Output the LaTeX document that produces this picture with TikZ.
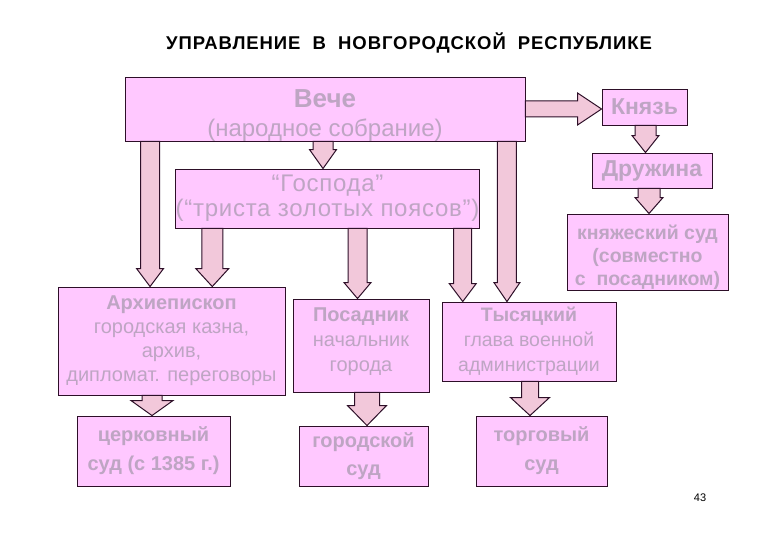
\documentclass[tikz,border=0pt]{standalone}
\usepackage{fontspec}
\setmainfont{Liberation Sans}
\usetikzlibrary{calc}
\definecolor{boxpink}{RGB}{255,200,255}
\definecolor{arrowpink}{RGB}{242,200,218}
\definecolor{edgedark}{RGB}{45,15,40}
\definecolor{textgrey}{RGB}{190,165,195}
\tikzset{
 ashaft/.store in=\ashaft, ahead/.store in=\ahead, alen/.store in=\alen,
 ashaft=10pt, ahead=14pt, alen=18pt}

\begin{document}
\begin{tikzpicture}[x=1pt,y=-1pt,
 box/.style={draw=edgedark,line width=0.9pt,fill=boxpink,text=textgrey,align=center,inner sep=0pt},
 big/.style={font=\fontsize{24}{29}\selectfont},
 small/.style={font=\fontsize{20}{24}\selectfont},
 downarr/.style={draw=edgedark,fill=arrowpink,line width=1pt,line join=miter,
  to path={let \p1=(\tikztostart),\p2=(\tikztotarget) in
   (\x1-\ashaft,\y1) -- (\x1-\ashaft,\y2+\alen) -- (\x1-\ahead,\y2+\alen) -- (\x1,\y2)
   -- (\x1+\ahead,\y2+\alen) -- (\x1+\ashaft,\y2+\alen) -- (\x1+\ashaft,\y1) -- cycle}},
 rightarr/.style={draw=edgedark,fill=arrowpink,line width=1pt,line join=miter,
  to path={let \p1=(\tikztostart),\p2=(\tikztotarget) in
   (\x1,\y1-\ashaft) -- (\x2-\alen,\y1-\ashaft) -- (\x2-\alen,\y1-\ahead) -- (\x2,\y1)
   -- (\x2-\alen,\y1+\ahead) -- (\x2-\alen,\y1+\ashaft) -- (\x1,\y1+\ashaft) -- cycle}}]
\useasboundingbox[fill=white] (0,0) rectangle (780,540);
\node[font=\fontsize{18.5}{22}\selectfont\bfseries\addfontfeature{LetterSpace=5}] (title) at (409,43) {УПРАВЛЕНИЕ\ \ В\ \ НОВГОРОДСКОЙ\ \ РЕСПУБЛИКЕ};
% upper part
\node[box,big,minimum width=400pt,minimum height=63pt] (veche) at (325,109) {\rule{0pt}{30pt}{\fontsize{26}{29}\selectfont\bfseries Вече}\\(народное собрание)};
\node[box,big,font=\fontsize{23}{26}\selectfont\bfseries,minimum width=85pt,minimum height=36pt] (knyaz) at (644.5,107) {Князь};
\node[box,big,font=\fontsize{23}{26}\selectfont\bfseries,minimum width=120pt,minimum height=35pt] (druzhina) at (652,170.5) {Дружина};
\node[box,font=\fontsize{19.5}{23}\selectfont\bfseries,minimum width=161pt,minimum height=76pt] (ksud) at (647.5,252) {\rule{0pt}{26pt}княжеский суд\\(совместно\\с\ \ посадником)};
\node[box,font=\fontsize{24}{25}\selectfont\addfontfeature{LetterSpace=3},minimum width=303pt,minimum height=59pt] (gospoda) at (327.5,198.5) {“Господа”\\(“триста золотых поясов”)};
% officials
\node[box,small,minimum width=227pt,minimum height=108pt] (arch) at (171.5,341) {\textbf{Архиепископ}\\городская казна,\\архив,\\дипломат. переговоры};
\node[box,small,font=\fontsize{20}{25}\selectfont,minimum width=136pt,minimum height=93pt] (posad) at (361,345.5) {\textbf{Посадник}\\начальник\\города\rule[-12pt]{0pt}{0pt}};
\node[box,small,font=\fontsize{19.5}{25}\selectfont,minimum width=174pt,minimum height=79pt] (tys) at (529,341.5) {\textbf{Тысяцкий}\\глава военной\\администрации};
% courts
\node[box,font=\fontsize{20}{29}\selectfont\bfseries,minimum width=153pt,minimum height=70pt] (tserk) at (153.5,451) {церковный\\суд (с 1385 г.)};
\node[box,font=\fontsize{20}{28}\selectfont\bfseries,minimum width=129pt,minimum height=60pt] (gorsud) at (363.5,456) {городской\\суд};
\node[box,font=\fontsize{20}{29}\selectfont\bfseries,minimum width=131pt,minimum height=70pt] (torg) at (541.5,451) {торговый\\суд};
\node[font=\fontsize{11}{13}\selectfont] (page) at (700,498) {43};
% arrows
\draw[rightarr,ashaft=8pt,ahead=16pt,alen=24pt] (veche.east) to (knyaz.west);
\foreach \a/\dx/\b/\s/\h/\l in {
 veche.south west/25.5pt/arch/9.5pt/13.5pt/18pt,
 veche.south/-2pt/gospoda/10pt/13.5pt/19pt,
 veche.south east/-18.5pt/tys/9.5pt/13pt/19pt,
 gospoda.south west/37pt/arch/10.5pt/16.5pt/18pt,
 gospoda.south/30pt/posad/9.5pt/13.5pt/16pt,
 gospoda.south east/-17pt/tys/9pt/13.5pt/18pt,
 knyaz.south/1pt/druzhina/10.5pt/13.5pt/17pt,
 druzhina.south/-3pt/ksud/11pt/14pt/16pt,
 arch.south/-19.5pt/tserk/10pt/21pt/15pt,
 posad.south/6pt/gorsud/12.5pt/19.5pt/20pt,
 tys.south/1pt/torg/8.5pt/19.5pt/18pt}
 \draw[downarr,ashaft=\s,ahead=\h,alen=\l] ([xshift=\dx]\a) to (\b.north);
\end{tikzpicture}
\end{document}
